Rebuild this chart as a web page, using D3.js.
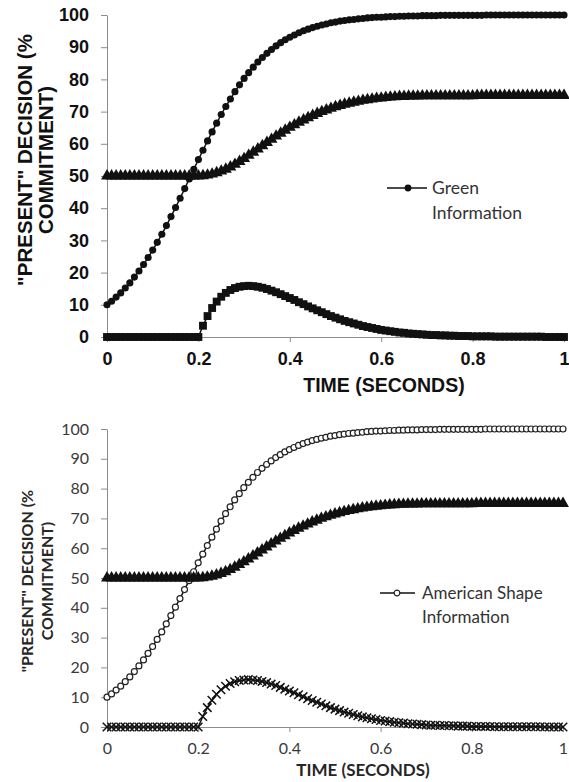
<!DOCTYPE html>
<html><head><meta charset="utf-8">
<script src="https://cdn.jsdelivr.net/npm/d3@7"></script>
<style>body{margin:0;background:#fff}svg{display:block}</style>
</head><body>
<svg id="c" width="569" height="782"></svg>
<script>
// ---- data ----
const time = d3.range(101).map(i => i / 100);   // sample times 0..1 s, step 0.01
const informationCommitment = [
  10.0, 11.1, 12.4, 13.7, 15.2, 16.8, 18.6, 20.5, 22.5, 24.7,
  27.0, 29.4, 31.9, 34.6, 37.4, 40.2, 43.1, 46.1, 49.1, 52.1,
  55.1, 58.0, 60.9, 63.7, 66.4, 69.1, 71.6, 73.9, 76.2, 78.3,
  80.3, 82.1, 83.8, 85.4, 86.8, 88.1, 89.3, 90.4, 91.4, 92.3,
  93.1, 93.8, 94.5, 95.1, 95.6, 96.1, 96.5, 96.9, 97.2, 97.6,
  97.8, 98.1, 98.3, 98.5, 98.6, 98.8, 98.9, 99.1, 99.2, 99.3,
  99.3, 99.4, 99.5, 99.5, 99.6, 99.6, 99.7, 99.7, 99.7, 99.8,
  99.8, 99.8, 99.8, 99.9, 99.9, 99.9, 99.9, 99.9, 99.9, 99.9,
  99.9, 99.9, 99.9, 100, 100, 100, 100, 100, 100, 100,
  100, 100, 100, 100, 100, 100, 100, 100, 100, 100,
  100
];
const presentDecision = [
  50, 50, 50, 50, 50, 50, 50, 50, 50, 50,
  50, 50, 50, 50, 50, 50, 50, 50, 50, 50,
  50, 50.1, 50.3, 50.6, 51.0, 51.5, 52.1, 52.8, 53.6, 54.5,
  55.4, 56.4, 57.4, 58.4, 59.4, 60.4, 61.4, 62.4, 63.3, 64.2,
  65.1, 65.9, 66.7, 67.4, 68.1, 68.8, 69.4, 70.0, 70.5, 71.0,
  71.5, 71.9, 72.3, 72.6, 72.9, 73.2, 73.5, 73.7, 73.9, 74.1,
  74.2, 74.4, 74.5, 74.6, 74.7, 74.7, 74.8, 74.8, 74.8, 74.9,
  74.9, 74.9, 74.9, 74.9, 74.9, 74.9, 74.9, 74.9, 74.9, 74.9,
  74.9, 75, 75, 75, 75, 75, 75, 75, 75, 75,
  75, 75, 75, 75, 75, 75, 75, 75, 75, 75,
  75
];
const transientResponse = [
  0, 0, 0, 0, 0, 0, 0, 0, 0, 0,
  0, 0, 0, 0, 0, 0, 0, 0, 0, 0,
  0, 3.5, 6.5, 9.0, 11.0, 12.5, 13.7, 14.6, 15.2, 15.6,
  15.8, 15.9, 15.8, 15.6, 15.3, 14.9, 14.4, 13.9, 13.3, 12.7,
  12.1, 11.5, 10.8, 10.2, 9.5, 8.9, 8.3, 7.7, 7.1, 6.5,
  6.0, 5.5, 5.0, 4.6, 4.2, 3.8, 3.4, 3.1, 2.8, 2.5,
  2.2, 2.0, 1.8, 1.6, 1.4, 1.3, 1.1, 1.0, 0.9, 0.8,
  0.7, 0.6, 0.6, 0.5, 0.5, 0.4, 0.4, 0.3, 0.3, 0.3,
  0.2, 0.2, 0.2, 0.2, 0.2, 0.1, 0.1, 0.1, 0.1, 0.1,
  0.1, 0.1, 0.1, 0.1, 0.1, 0.1, 0, 0, 0, 0,
  0
];
const xTicks = [0, 0.2, 0.4, 0.6, 0.8, 1];
const xTickLabels = ["0", "0.2", "0.4", "0.6", "0.8", "1"];
const yTicks = [0, 10, 20, 30, 40, 50, 60, 70, 80, 90, 100];
const yTitle = ['"PRESENT" DECISION (%', 'COMMITMENT)'];
const xTitle = 'TIME (SECONDS)';
const legendTop = ['Green', 'Information'];
const legendBottom = ['American Shape', 'Information'];

// ---- drawing ----
const svg = d3.select('#c');

const crossType = {
  draw(ctx, size) {
    const r = Math.sqrt(size) / 2;
    ctx.moveTo(-r, -r); ctx.lineTo(r, r);
    ctx.moveTo(r, -r); ctx.lineTo(-r, r);
  }
};

function panel(cfg) {
  const g = svg.append('g');
  const x = d3.scaleLinear().domain([0, 1]).range([cfg.x0, cfg.x1]);
  const y = d3.scaleLinear().domain([0, 100]).range([cfg.yb, cfg.yt]);

  const ya = g.append('g').attr('transform', `translate(${cfg.x0},0)`)
    .call(d3.axisLeft(y).tickValues(yTicks).tickSize(6).tickSizeOuter(0).tickPadding(12).tickFormat(d3.format('d')));
  const xa = g.append('g').attr('transform', `translate(0,${cfg.yb})`)
    .call(d3.axisBottom(x).tickValues(xTicks).tickSize(5).tickSizeOuter(0).tickPadding(cfg.xpad).tickFormat((d, i) => xTickLabels[i]));
  [ya, xa].forEach(a => {
    a.select('.domain').attr('stroke', '#8c8c8c').attr('stroke-width', 1);
    a.selectAll('.tick line').attr('stroke', '#8c8c8c');
    a.selectAll('.tick text').attr('fill', cfg.tickColor)
      .style('font-family', cfg.font).style('font-size', cfg.tickSize + 'px').style('font-weight', cfg.tickWeight);
  });

  // axis titles
  g.append('text').attr('x', cfg.xTitleX).attr('y', cfg.xTitleY)
    .attr('text-anchor', 'middle').attr('fill', cfg.titleColor)
    .style('font-family', cfg.font).style('font-weight', 'bold').style('font-size', cfg.xTitleSize + 'px')
    .text(xTitle);
  yTitle.forEach((t, i) => {
    g.append('text').attr('transform', `translate(${cfg.yTitleX[i]},${cfg.yTitleCY}) rotate(-90)`)
      .attr('text-anchor', 'middle').attr('fill', cfg.titleColor)
      .style('font-family', cfg.font).style('font-weight', 'bold').style('font-size', cfg.yTitleSize + 'px')
      .text(t);
  });

  const line = d3.line().x((d, i) => x(time[i])).y(d => y(d));
  cfg.series.forEach(s => {
    g.append('path').datum(s.values).attr('d', line)
      .attr('fill', 'none').attr('stroke', '#111').attr('stroke-width', 1.5);
    const sym = d3.symbol().type(s.type).size(s.size);
    g.append('g').selectAll('path').data(s.values).join('path')
      .attr('transform', (d, i) => `translate(${x(time[i])},${y(d)})`)
      .attr('d', sym())
      .attr('fill', s.fill).attr('stroke', s.stroke).attr('stroke-width', s.sw);
  });

  // legend
  const L = cfg.legend;
  g.append('line').attr('x1', L.x1).attr('x2', L.x2).attr('y1', L.y).attr('y2', L.y)
    .attr('stroke', '#111').attr('stroke-width', 1.5);
  const ls = cfg.series[0];
  g.append('path').attr('transform', `translate(${L.mx},${L.y})`)
    .attr('d', d3.symbol().type(ls.type).size(L.msize)())
    .attr('fill', ls.fill).attr('stroke', ls.stroke).attr('stroke-width', ls.sw);
  L.text.forEach((t, i) => {
    g.append('text').attr('x', L.tx).attr('y', L.ty + i * L.lh)
      .attr('fill', '#333').style('font-family', L.font).style('font-size', L.size + 'px')
      .text(t);
  });
}

panel({
  x0: 107, x1: 564, yb: 337, yt: 15, xpad: 10,
  font: '"Liberation Sans", Arial, sans-serif', tickSize: 18, tickWeight: 'bold',
  tickColor: '#111', titleColor: '#111',
  xTitleX: 384, xTitleY: 392, xTitleSize: 19.5,
  yTitleX: [32, 53], yTitleCY: 160, yTitleSize: 20.5,
  series: [
    { values: informationCommitment, type: d3.symbolCircle, size: 40, fill: '#111', stroke: 'none', sw: 0 },
    { values: presentDecision, type: d3.symbolTriangle, size: 62, fill: '#111', stroke: 'none', sw: 0 },
    { values: transientResponse, type: d3.symbolSquare, size: 62, fill: '#111', stroke: 'none', sw: 0 }
  ],
  legend: { x1: 387, x2: 427, y: 188, mx: 408, msize: 36, tx: 432, ty: 194, lh: 25, text: legendTop,
            font: 'Lato, sans-serif', size: 17.5 }
});

panel({
  x0: 107, x1: 563, yb: 727, yt: 429, xpad: 11,
  font: 'Lato, sans-serif', tickSize: 16, tickWeight: 'normal',
  tickColor: '#3a3a3a', titleColor: '#262626',
  xTitleX: 363, xTitleY: 776, xTitleSize: 17,
  yTitleX: [33, 53], yTitleCY: 581, yTitleSize: 16,
  series: [
    { values: informationCommitment, type: d3.symbolCircle, size: 28, fill: '#fff', stroke: '#222', sw: 1.2 },
    { values: presentDecision, type: d3.symbolTriangle, size: 62, fill: '#111', stroke: 'none', sw: 0 },
    { values: transientResponse, type: crossType, size: 72, fill: 'none', stroke: '#111', sw: 1.5 }
  ],
  legend: { x1: 380, x2: 415, y: 593, mx: 397, msize: 26, tx: 422, ty: 599, lh: 24, text: legendBottom,
            font: 'Lato, sans-serif', size: 17 }
});
</script>
</body></html>
